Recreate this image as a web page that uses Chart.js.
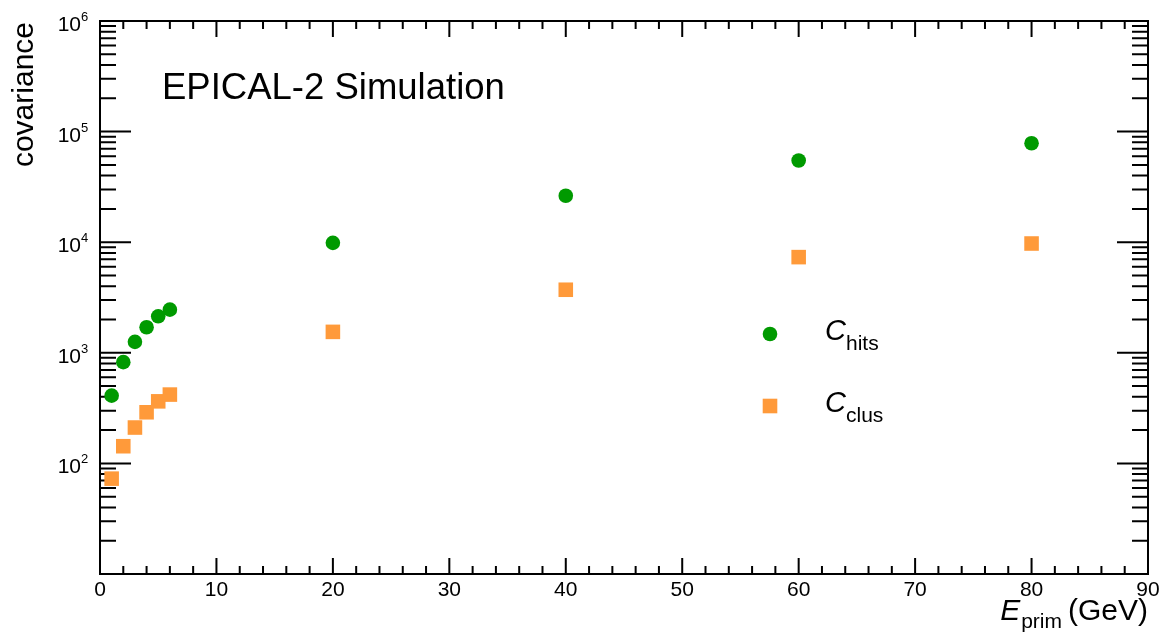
<!DOCTYPE html>
<html>
<head>
<meta charset="utf-8">
<script src="https://cdn.jsdelivr.net/npm/chart.js@4.4.1/dist/chart.umd.min.js"></script>
<style>
  html, body { margin: 0; padding: 0; background: #fff; }
  #wrap { width: 1159px; height: 639px; }
</style>
</head>
<body>
<div id="wrap"><canvas id="covChart" width="1159" height="639"></canvas></div>
<script>
// values
const energies = [1, 2, 3, 4, 5, 6, 20, 40, 60, 80];
const covHits = [410, 823, 1256, 1702, 2138, 2455, 9870, 26300, 54800, 78500];
const covClus = [72.8, 143, 211, 290, 364, 419, 1546, 3716, 7330, 9730];
const xMajorTicks = [0, 10, 20, 30, 40, 50, 60, 70, 80, 90];
const yDecadeExps = [2, 3, 4, 5, 6];

const GREEN = '#009a00';
const ORANGE = '#ff9a3a';
const FONT = '"Liberation Sans", Arial, Helvetica, sans-serif';

function toPoints(xs, ys) {
    return xs.map((x, i) => ({ x: x, y: ys[i] }));
}

// ROOT-like frame: ticks inside on all four sides, labels drawn by hand
const rootFrame = {
    id: 'rootFrame',
    beforeDatasetsDraw(chart) {
        const ctx = chart.ctx;
        const area = chart.chartArea;
        const xs = chart.scales.x;
        const ys = chart.scales.y;
        ctx.save();
        ctx.strokeStyle = '#000';
        ctx.lineWidth = 2;
        ctx.strokeRect(area.left, area.top, area.right - area.left, area.bottom - area.top);

        ctx.beginPath();
        // x ticks, major every 10, minor every 2
        for (let v = 0; v <= 90; v += 2) {
            const px = xs.getPixelForValue(v);
            const len = v % 10 === 0 ? 16 : 8;
            ctx.moveTo(px, area.bottom); ctx.lineTo(px, area.bottom - len);
            ctx.moveTo(px, area.top); ctx.lineTo(px, area.top + len);
        }
        // y ticks, log decades 10^1 .. 10^6
        for (let e = 1; e <= 6; e++) {
            for (let m = 1; m <= 9; m++) {
                const val = m * Math.pow(10, e);
                if (val > 1e6) break;
                const py = ys.getPixelForValue(val);
                const len = m === 1 ? 31 : 16;
                ctx.moveTo(area.left, py); ctx.lineTo(area.left + len, py);
                ctx.moveTo(area.right, py); ctx.lineTo(area.right - len, py);
            }
        }
        ctx.stroke();
        ctx.restore();
    },
    afterDraw(chart) {
        const ctx = chart.ctx;
        const area = chart.chartArea;
        const xs = chart.scales.x;
        const ys = chart.scales.y;
        ctx.save();
        ctx.fillStyle = '#000';
        ctx.textBaseline = 'alphabetic';

        // x tick labels
        ctx.font = '21px ' + FONT;
        ctx.textAlign = 'center';
        xMajorTicks.forEach(v => {
            ctx.fillText(String(v), xs.getPixelForValue(v), area.bottom + 22);
        });
        // y tick labels 10^n
        yDecadeExps.forEach(e => {
            const py = ys.getPixelForValue(Math.pow(10, e));
            ctx.font = '21px ' + FONT;
            ctx.textAlign = 'right';
            ctx.fillText('10', 81, py + 10);
            ctx.font = '13px ' + FONT;
            ctx.textAlign = 'left';
            ctx.fillText(String(e), 81, py);
        });

        // y title
        ctx.save();
        ctx.translate(33, area.top + 1);
        ctx.rotate(-Math.PI / 2);
        ctx.font = '30px ' + FONT;
        ctx.textAlign = 'right';
        ctx.fillText('covariance', 0, 0);
        ctx.restore();

        // x title: E_prim (GeV), right aligned to the frame
        let xr = area.right;
        ctx.textAlign = 'right';
        ctx.font = '30px ' + FONT;
        ctx.fillText('(GeV)', xr, 620);
        xr -= ctx.measureText('(GeV)').width + 6;
        ctx.font = '21px ' + FONT;
        ctx.fillText('prim', xr, 628);
        xr -= ctx.measureText('prim').width + 1;
        ctx.font = 'italic 30px ' + FONT;
        ctx.fillText('E', xr, 620);

        // header
        ctx.textAlign = 'left';
        ctx.font = '36.5px ' + FONT;
        ctx.fillText('EPICAL-2 Simulation', 162, 99);

        // legend
        const legend = [
            { y: 334, label: 'hits', color: GREEN, shape: 'circle' },
            { y: 406, label: 'clus', color: ORANGE, shape: 'rect' }
        ];
        legend.forEach(item => {
            ctx.fillStyle = item.color;
            if (item.shape === 'circle') {
                ctx.beginPath();
                ctx.arc(770, item.y, 7.3, 0, Math.PI * 2);
                ctx.fill();
            } else {
                ctx.fillRect(770 - 7.3, item.y - 7.3, 14.6, 14.6);
            }
            ctx.fillStyle = '#000';
            ctx.font = 'italic 29px ' + FONT;
            ctx.textAlign = 'left';
            ctx.fillText('C', 825, item.y + 6);
            ctx.font = '21px ' + FONT;
            ctx.fillText(item.label, 846, item.y + 16);
        });
        ctx.restore();
    }
};

new Chart(document.getElementById('covChart'), {
    type: 'scatter',
    data: {
        datasets: [
            {
                label: 'C_hits',
                data: toPoints(energies, covHits),
                pointStyle: 'circle',
                pointRadius: 7.3,
                pointHoverRadius: 7.3,
                backgroundColor: GREEN,
                borderColor: GREEN,
                borderWidth: 0
            },
            {
                label: 'C_clus',
                data: toPoints(energies, covClus),
                pointStyle: 'rect',
                pointRadius: 10.3,
                pointHoverRadius: 10.3,
                backgroundColor: ORANGE,
                borderColor: ORANGE,
                borderWidth: 0
            }
        ]
    },
    options: {
        responsive: false,
        animation: false,
        layout: { padding: { left: 100, right: 11, top: 21, bottom: 65 } },
        plugins: {
            legend: { display: false },
            tooltip: { enabled: false }
        },
        scales: {
            x: { type: 'linear', min: 0, max: 90, display: false },
            y: { type: 'logarithmic', min: 10, max: 1e6, display: false }
        }
    },
    plugins: [rootFrame]
});
</script>
</body>
</html>
